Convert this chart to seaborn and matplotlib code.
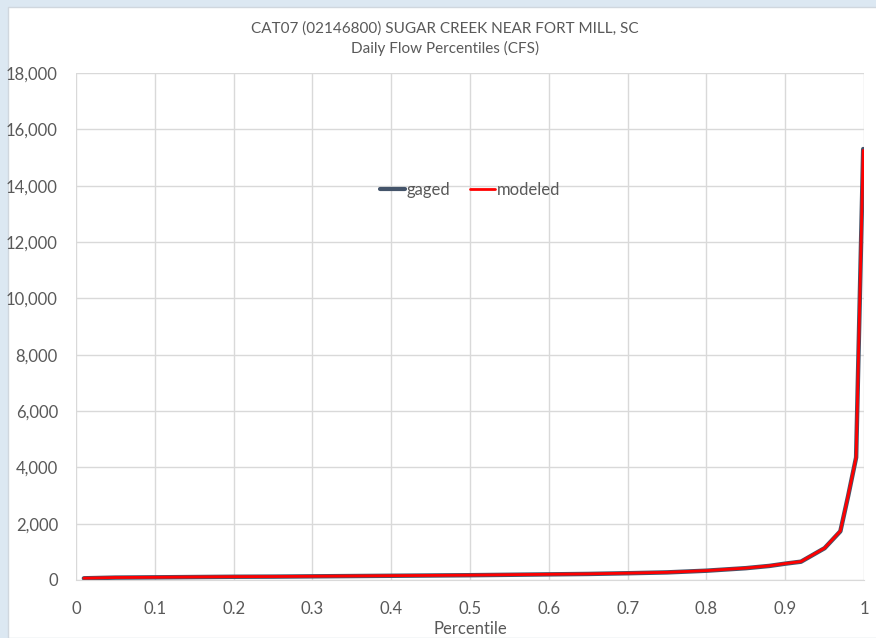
import numpy as np
import pandas as pd
import matplotlib
matplotlib.use('Agg')
import matplotlib.pyplot as plt
import seaborn as sns
from matplotlib.ticker import FuncFormatter, MultipleLocator

# percentile positions and flows (cfs)
percentiles = [0.01, 0.05, 0.10, 0.15, 0.20, 0.25, 0.30, 0.35, 0.40, 0.45,
               0.50, 0.55, 0.60, 0.65, 0.70, 0.75, 0.80, 0.85, 0.88, 0.90,
               0.92, 0.95, 0.97, 0.98, 0.99, 0.999]
gaged = [60, 85, 95, 105, 115, 120, 130, 140, 150, 160,
         170, 185, 200, 215, 240, 270, 330, 420, 500, 580,
         650, 1130, 1730, 3000, 4350, 15300]
modeled = [65, 88, 97, 108, 118, 123, 133, 143, 153, 163,
           173, 188, 203, 218, 243, 273, 333, 423, 503, 585,
           655, 1135, 1740, 3010, 4360, 15250]

title = "CAT07 (02146800) SUGAR CREEK NEAR FORT MILL, SC\nDaily Flow Percentiles (CFS)"

df = pd.DataFrame({'Percentile': percentiles, 'gaged': gaged, 'modeled': modeled})
long = df.melt(id_vars='Percentile', var_name='series', value_name='flow')

sns.set_style('whitegrid')
plt.rcParams['font.family'] = ['Lato', 'DejaVu Sans']
text_color = '#595959'

fig = plt.figure(figsize=(8.76, 6.38), dpi=100)
fig.patch.set_facecolor('#dce8f2')
# white chart area inside the light blue frame
fig.add_artist(plt.Rectangle((8 / 876, 0), 1, 1 - 7 / 638, transform=fig.transFigure,
                             facecolor='white', edgecolor='#d0d7de', lw=1, zorder=0))

ax = fig.add_axes([76 / 876, 58 / 638, 788 / 876, 507 / 638])
ax.set_facecolor('white')

sns.lineplot(data=long, x='Percentile', y='flow', hue='series',
             palette={'gaged': '#44546a', 'modeled': '#ff0000'},
             ax=ax, legend=False)
ax.lines[0].set_linewidth(3.2)
ax.lines[1].set_linewidth(2.0)

ax.set_xlim(0, 1)
ax.set_ylim(0, 18000)
ax.xaxis.set_major_locator(MultipleLocator(0.1))
ax.yaxis.set_major_locator(MultipleLocator(2000))
ax.xaxis.set_major_formatter(FuncFormatter(lambda v, p: '0' if abs(v) < 1e-9 else ('1' if abs(v - 1) < 1e-9 else f'{v:.1f}')))
ax.yaxis.set_major_formatter(FuncFormatter(lambda v, p: f'{int(v):,}'))
ax.grid(True, color='#d9d9d9', linewidth=1)
for s in ['top', 'right', 'left']:
    ax.spines[s].set_visible(False)
ax.spines['bottom'].set_color('#d9d9d9')
ax.tick_params(axis='y', colors=text_color, labelsize=12, length=0, pad=13)
ax.tick_params(axis='x', colors=text_color, labelsize=12, length=0, pad=15)

ax.set_xlabel('Percentile', color=text_color, fontsize=12, labelpad=3)
ax.set_ylabel('')
fig.text(0.508, 0.967, title, ha='center', va='top', color=text_color,
         fontsize=11, linespacing=1.5)

handles = [plt.Line2D([], [], color='#44546a', lw=3),
           plt.Line2D([], [], color='#ff0000', lw=2)]
ax.legend(handles, ['gaged', 'modeled'], loc='center', bbox_to_anchor=(0.5, 0.769),
          ncol=2, frameon=False, handlelength=1.5, handletextpad=0.1,
          columnspacing=1.2, fontsize=12, labelcolor=text_color)

fig.savefig('out.png', dpi=100)
